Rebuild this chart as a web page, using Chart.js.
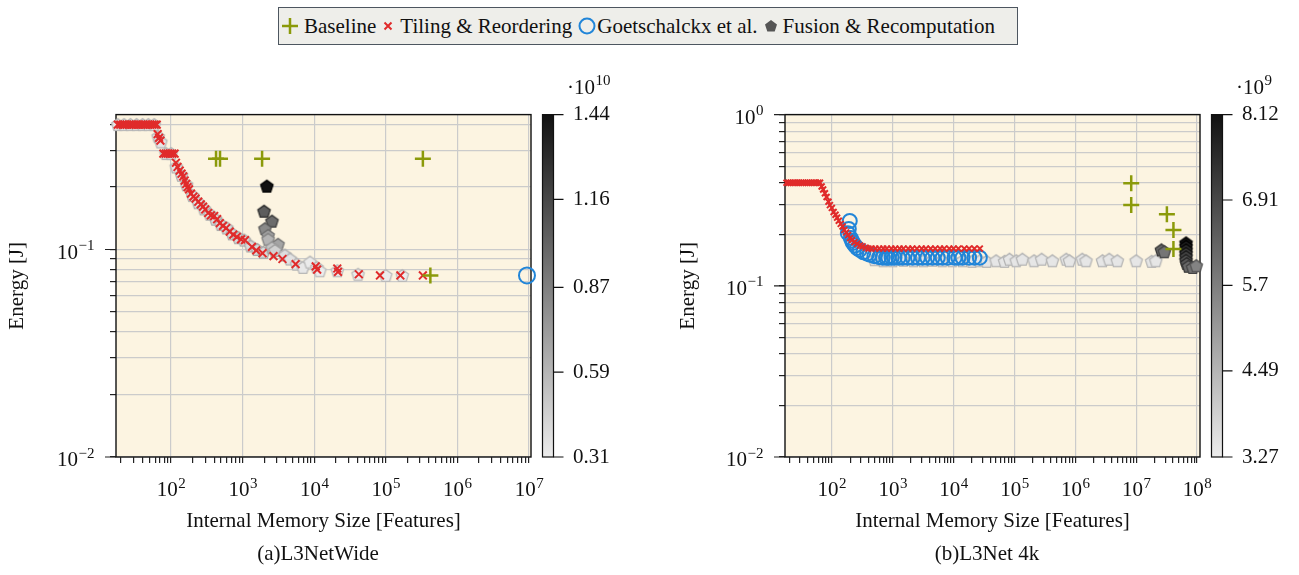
<!DOCTYPE html>
<html>
<head>
<meta charset="utf-8">
<script src="https://cdn.jsdelivr.net/npm/chart.js@4.4.1/dist/chart.umd.min.js"></script>
<style>
  body { margin: 0; width: 1299px; height: 575px; background: #fff; position: relative; overflow: hidden;
         font-family: "Liberation Serif", serif; color: #111; }
  #legend { position: absolute; left: 278px; top: 7px; width: 740px; height: 38px; box-sizing: border-box;
            border: 1.5px solid #4d5660; background: #eeeeea; display: flex; align-items: center;
            padding-left: 2px; font-size: 21px; white-space: nowrap; }
  #legend svg { flex: none; }
  .wrap { position: absolute; top: 60px; height: 515px; }
  .caption { position: absolute; top: 541px; font-size: 21px; text-align: center; width: 300px; }
</style>
</head>
<body>
<div id="legend">
  <svg width="18" height="18" style="margin-right:5px"><path d="M9 1V17M1 9H17" stroke="#8b9a0a" stroke-width="2.5"/></svg>
  <span style="margin-right:6px">Baseline</span>
  <svg width="12" height="12" style="margin-right:6px"><path d="M2.5 2.5L9.5 9.5M9.5 2.5L2.5 9.5" stroke="#e02b2b" stroke-width="2"/></svg>
  <span style="margin-right:5px">Tiling &amp; Reordering</span>
  <svg width="20" height="20"><circle cx="10" cy="10" r="7.5" fill="none" stroke="#2185d8" stroke-width="2"/></svg>
  <span style="margin-right:6px">Goetschalckx et al.</span>
  <svg width="14" height="14" style="margin-right:5px"><path d="M7 1L13 5.5L10.7 12.5H3.3L1 5.5Z" fill="#555"/></svg>
  <span>Fusion &amp; Recomputation</span>
</div>

<div class="wrap" style="left:0;width:650px"><canvas id="left"></canvas></div>
<div class="wrap" style="left:650px;width:649px"><canvas id="right"></canvas></div>
<div class="caption" style="left:168px">(a)L3NetWide</div>
<div class="caption" style="left:837px">(b)L3Net 4k</div>

<script>
// ---------- L3NetWide ----------
const leftBaselineX = [425, 483, 1870, 3.3e5, 4.2e5];
const leftBaselineY = [0.274, 0.274, 0.274, 0.274, 0.075];

const leftTilingX = [18, 19.5, 21, 22.5, 24, 26, 28, 30, 32.5, 35, 38, 41, 44, 47.5, 51, 55, 59, 63,
  65, 68, 71, 78, 84, 90, 97, 104, 112, 117, 123, 132, 140, 148, 155, 163, 170, 178, 190, 205, 220,
  240, 260, 280, 300, 330, 360, 400, 440, 480, 530, 590, 660, 740, 830, 950, 1080, 1350, 1550, 1900,
  2700, 3600, 5500, 1.05e4, 1.1e4, 2.1e4, 2.15e4, 4.2e4, 8.3e4, 1.6e5, 3.3e5];
const leftTilingY = [0.4, 0.4, 0.4, 0.4, 0.4, 0.4, 0.4, 0.4, 0.4, 0.4, 0.4, 0.4, 0.4, 0.4, 0.4, 0.4, 0.4, 0.4,
  0.36, 0.345, 0.335, 0.29, 0.29, 0.29, 0.29, 0.29, 0.29, 0.262, 0.25, 0.24, 0.232, 0.225, 0.215, 0.207, 0.2,
  0.195, 0.186, 0.18, 0.176, 0.17, 0.165, 0.161, 0.156, 0.15, 0.146, 0.145, 0.14, 0.134, 0.13, 0.127, 0.122,
  0.118, 0.115, 0.112, 0.111, 0.103, 0.099, 0.096, 0.093, 0.09, 0.085, 0.083, 0.08, 0.081, 0.078, 0.076,
  0.075, 0.075, 0.075];

const leftGoetX = [9.4e6];
const leftGoetY = [0.075];

const leftFusionX = [18, 22, 27, 33, 40, 48, 58, 66, 72, 85, 100, 118, 140, 165, 200, 240, 290, 350, 420,
  500, 600, 720, 880, 1050, 1300, 1600, 1950,
  2180, 1990, 2570, 2050, 2270, 2270, 3120, 2570, 2830, 3900, 4600, 5700, 6970, 8750, 1.09e4, 1.2e4,
  2.1e4, 4.1e4, 1e5, 1.7e5];
const leftFusionY = [0.4, 0.4, 0.4, 0.4, 0.4, 0.4, 0.4, 0.35, 0.33, 0.29, 0.29, 0.25, 0.228, 0.205, 0.182,
  0.168, 0.157, 0.148, 0.14, 0.132, 0.127, 0.119, 0.114, 0.111, 0.104, 0.1, 0.097,
  0.202, 0.153, 0.137, 0.126, 0.117, 0.112, 0.106, 0.102, 0.099, 0.094, 0.09, 0.085, 0.082, 0.087, 0.082,
  0.079, 0.079, 0.076, 0.075, 0.075];
const leftFusionC = [0.33, 0.33, 0.33, 0.33, 0.33, 0.33, 0.33, 0.34, 0.34, 0.35, 0.35, 0.35, 0.36, 0.36, 0.36,
  0.37, 0.37, 0.38, 0.38, 0.38, 0.39, 0.39, 0.4, 0.4, 0.4, 0.41, 0.41,
  1.44, 1.05, 0.97, 0.82, 0.7, 0.6, 0.68, 0.5, 0.45, 0.38, 0.36, 0.34, 0.33, 0.32, 0.32, 0.31,
  0.31, 0.31, 0.31, 0.31];
const leftCbTicks = [0.31, 0.59, 0.87, 1.16, 1.44];

// ---------- L3Net 4k ----------
const rightBaselineX = [8.3e6, 8.3e6, 3.2e7, 4.1e7, 4.1e7];
const rightBaselineY = [0.397, 0.296, 0.262, 0.212, 0.164];

const rightTilingX = [18, 19.5, 21, 23, 25, 27, 29, 31.5, 34, 37, 40, 43, 47, 51, 55, 60, 64,
  68, 72, 77, 82, 88, 93, 100, 107, 115, 122, 130, 140, 150, 160, 172, 185, 200, 215, 235, 260, 290, 320, 360,
  400, 450, 520, 600, 700, 800, 950, 1100, 1300, 1500, 1800, 2100, 2500, 3000, 3500, 4200, 5000, 6000, 7000,
  8500, 1e4, 1.2e4, 1.5e4, 1.8e4, 2.2e4, 2.7e4];
const rightTilingY = [0.4, 0.4, 0.4, 0.4, 0.4, 0.4, 0.4, 0.4, 0.4, 0.4, 0.4, 0.4, 0.4, 0.4, 0.4, 0.4, 0.4,
  0.38, 0.365, 0.347, 0.33, 0.31, 0.296, 0.285, 0.27, 0.26, 0.25, 0.24, 0.23, 0.222, 0.212, 0.205, 0.198,
  0.19, 0.185, 0.18, 0.176, 0.172, 0.17, 0.167,
  0.165, 0.165, 0.165, 0.165, 0.165, 0.165, 0.165, 0.165, 0.165, 0.165, 0.165, 0.165, 0.165, 0.165, 0.165,
  0.165, 0.165, 0.165, 0.165, 0.165, 0.165, 0.165, 0.165, 0.165, 0.165, 0.165];

const rightGoetX = [183, 197, 190, 205, 215, 222, 240, 260, 287, 330, 380, 420, 500, 600, 685, 780, 850, 960,
  1070, 1250, 1460, 1750, 2130, 2600, 3100, 3700, 4500, 5500, 6600, 8000, 1.04e4, 1.2e4, 1.4e4, 1.8e4,
  2.2e4, 2.7e4];
const rightGoetY = [0.203, 0.239, 0.215, 0.19, 0.183, 0.178, 0.172, 0.166, 0.162, 0.157, 0.154, 0.152, 0.149,
  0.147, 0.146, 0.146, 0.146, 0.146, 0.146, 0.146, 0.146, 0.146, 0.146, 0.146, 0.146, 0.146, 0.146, 0.146,
  0.146, 0.146, 0.146, 0.146, 0.146, 0.146, 0.146, 0.146];

const rightFusionX = [500, 700, 1000, 1500, 2200, 3200, 4500, 6500, 9500, 1.4e4, 2e4, 2.7e4, 3.5e4, 5e4,
  6.9e4, 8.3e4, 1.07e5, 1.35e5, 2.1e5, 2.8e5, 4.2e5, 7.1e5, 8e5, 1.3e6, 1.5e6, 2.8e6, 3.6e6, 4.9e6, 1e7,
  1.8e7, 2.1e7,
  2.6e7, 2.9e7, 6.6e7, 6.6e7, 6.6e7, 6.6e7, 6.6e7, 6.6e7, 6.8e7, 7.2e7, 8.5e7, 9.7e7];
const rightFusionY = [0.142, 0.14, 0.14, 0.141, 0.14, 0.14, 0.141, 0.14, 0.14, 0.14, 0.139, 0.14, 0.139,
  0.14, 0.139, 0.143, 0.14, 0.143, 0.14, 0.143, 0.14, 0.143, 0.14, 0.143, 0.14, 0.14, 0.143, 0.14, 0.14,
  0.139, 0.14,
  0.162, 0.158, 0.178, 0.17, 0.162, 0.155, 0.148, 0.141, 0.135, 0.13, 0.128, 0.131];
const rightFusionC = [3.4, 3.4, 3.4, 3.4, 3.4, 3.4, 3.4, 3.4, 3.4, 3.4, 3.4, 3.4, 3.4, 3.4, 3.4, 3.4, 3.4,
  3.4, 3.4, 3.4, 3.4, 3.4, 3.4, 3.4, 3.4, 3.4, 3.4, 3.4, 3.4, 3.4, 3.4,
  6.2, 5.9, 8.12, 7.8, 7.4, 7.1, 6.9, 6.7, 6.5, 6.2, 5.9, 5.6];
const rightCbTicks = [3.27, 4.49, 5.7, 6.91, 8.12];

// ---------- helpers ----------
const FONT = 'Liberation Serif';
const GREEN = '#8b9a0a', RED = '#e02b2b', BLUE = '#2185d8';
const CLEAR = 'rgba(0,0,0,0)';

function isDecade(v) {
  const e = Math.round(Math.log10(v));
  return Math.abs(v - Math.pow(10, e)) < 1e-9 * v;
}
// placeholder text so Chart.js reserves room; the visible label is drawn by the frame plugin
function powLabel(v) {
  return isDecade(v) ? '10' + Math.round(Math.log10(v)) : '';
}
function logTicks(scale) {
  const out = [];
  const lo = Math.floor(Math.log10(scale.min)), hi = Math.ceil(Math.log10(scale.max));
  for (let e = lo; e <= hi; e++) {
    for (let m = 1; m <= 9; m++) {
      const v = m * Math.pow(10, e);
      if (v >= scale.min * 0.9999 && v <= scale.max * 1.0001) out.push({ value: v, major: m === 1 });
    }
  }
  scale.ticks = out;
}
function grayFor(v, lo, hi) {
  const t = Math.min(1, Math.max(0, (v - lo) / (hi - lo)));
  return Math.round(236 - t * (236 - 17));
}
const pentCache = {};
function pentagon(g) {
  if (pentCache[g]) return pentCache[g];
  const r = 6.5, s = 17;
  const c = document.createElement('canvas');
  c.width = s; c.height = s;
  const x = c.getContext('2d');
  x.beginPath();
  for (let i = 0; i < 5; i++) {
    const a = -Math.PI / 2 + i * 2 * Math.PI / 5;
    const px = s / 2 + r * Math.cos(a), py = s / 2 + 0.6 + r * Math.sin(a);
    if (i) x.lineTo(px, py); else x.moveTo(px, py);
  }
  x.closePath();
  x.fillStyle = `rgb(${g},${g},${g})`;
  x.fill();
  const b = Math.max(0, g - 50);
  x.strokeStyle = `rgb(${b},${b},${b})`;
  x.lineWidth = 1.3;
  x.stroke();
  pentCache[g] = c;
  return c;
}
function pts(xs, ys, cs) {
  return xs.map((x, i) => cs ? { x: x, y: ys[i], c: cs[i] } : { x: x, y: ys[i] });
}

// draws 10^e with a raised exponent; align 'center' or 'right'
function drawPow(ctx, v, x, baseY, align) {
  const e = String(Math.round(Math.log10(v))).replace('-', '\u2212');
  ctx.font = `21px "${FONT}"`;
  const bw = ctx.measureText('10').width;
  ctx.font = `15px "${FONT}"`;
  const ew = ctx.measureText(e).width;
  const left = align === 'center' ? x - (bw + ew) / 2 : x - bw - ew;
  ctx.font = `21px "${FONT}"`;
  ctx.fillText('10', left, baseY);
  ctx.font = `15px "${FONT}"`;
  ctx.fillText(e, left + bw + 0.5, baseY - 8.5);
}

const framePlugin = {
  id: 'frame',
  beforeDraw(chart) {
    const a = chart.chartArea, ctx = chart.ctx;
    ctx.save();
    ctx.fillStyle = '#fcf4e1';
    ctx.fillRect(a.left, a.top, a.right - a.left, a.bottom - a.top);
    ctx.restore();
  },
  beforeDatasetsDraw(chart) {
    const a = chart.chartArea, ctx = chart.ctx;
    ctx.save();
    ctx.strokeStyle = '#111';
    ctx.lineWidth = 1.4;
    ctx.strokeRect(a.left, a.top, a.right - a.left, a.bottom - a.top);
    ctx.restore();
  },
  afterDraw(chart) {
    const opts = chart.options.plugins.frame;
    const cb = chart.scales.cb, xs = chart.scales.x, ys = chart.scales.y;
    const a = chart.chartArea, ctx = chart.ctx;
    ctx.save();
    ctx.fillStyle = '#111';
    ctx.strokeStyle = '#222';
    ctx.textBaseline = 'alphabetic';
    ctx.textAlign = 'left';

    // axis labels and longer major ticks on y
    xs.ticks.forEach(t => {
      if (isDecade(t.value)) drawPow(ctx, t.value, xs.getPixelForValue(t.value), a.bottom + 39, 'center');
    });
    ctx.lineWidth = 1.2;
    ctx.beginPath();
    ys.ticks.forEach(t => {
      if (!isDecade(t.value)) return;
      const y = ys.getPixelForValue(t.value);
      drawPow(ctx, t.value, a.left - 22, y + 9, 'right');
      ctx.moveTo(a.left - 11, y);
      ctx.lineTo(a.left, y);
    });
    ctx.stroke();

    // colour bar
    const x0 = a.right + 11.5, w = 11;
    const grad = ctx.createLinearGradient(0, a.top, 0, a.bottom);
    grad.addColorStop(0, 'rgb(17,17,17)');
    grad.addColorStop(1, 'rgb(236,236,236)');
    ctx.fillStyle = grad;
    ctx.fillRect(x0, a.top, w, a.bottom - a.top);
    ctx.strokeStyle = '#111';
    ctx.lineWidth = 1.2;
    ctx.strokeRect(x0, a.top, w, a.bottom - a.top);
    ctx.beginPath();
    cb.ticks.forEach(t => {
      const y = cb.getPixelForValue(t.value);
      ctx.moveTo(x0 + w, y);
      ctx.lineTo(x0 + w + 10, y);
    });
    ctx.stroke();

    // multiplier above the colour bar
    ctx.fillStyle = '#111';
    ctx.font = `21px "${FONT}"`;
    const base = '·10';
    const bx = a.right + 36;
    ctx.fillText(base, bx, 34);
    const bw = ctx.measureText(base).width;
    ctx.font = `15px "${FONT}"`;
    ctx.fillText(opts.exp, bx + bw + 0.5, 25);
    ctx.restore();
  }
};

function makeChart(id, cfg) {
  const lo = cfg.cbTicks[0], hi = cfg.cbTicks[cfg.cbTicks.length - 1];
  new Chart(document.getElementById(id), {
    type: 'scatter',
    data: {
      datasets: [
        { label: 'Baseline', data: pts(cfg.baseX, cfg.baseY), pointStyle: 'cross', pointRadius: 8,
          borderColor: GREEN, borderWidth: 2.5, clip: false },
        { label: 'Tiling & Reordering', data: pts(cfg.tileX, cfg.tileY), pointStyle: 'crossRot',
          pointRadius: cfg.xRadius, borderColor: RED, borderWidth: 2, clip: false },
        { label: 'Goetschalckx et al.', data: pts(cfg.goetX, cfg.goetY), pointStyle: 'circle',
          pointRadius: cfg.circleRadius, borderColor: BLUE, backgroundColor: CLEAR, borderWidth: 2,
          clip: false },
        { label: 'Fusion & Recomputation', data: pts(cfg.fusX, cfg.fusY, cfg.fusC),
          pointStyle: ctx => pentagon(ctx.raw ? grayFor(ctx.raw.c, lo, hi) : 85), clip: false }
      ]
    },
    options: {
      responsive: true,
      maintainAspectRatio: false,
      animation: false,
      events: [],
      layout: { padding: { top: 51, left: cfg.padLeft, right: 0, bottom: 38 } },
      plugins: {
        legend: { display: false },
        tooltip: { enabled: false },
        frame: { exp: cfg.exp }
      },
      scales: {
        x: {
          type: 'logarithmic', min: cfg.xMin, max: cfg.xMax,
          afterBuildTicks: logTicks,
          afterFit: s => { s.height = 80; },
          border: { display: false },
          grid: { color: c => (c.tick && isDecade(c.tick.value)) ? '#cbcbcb' : CLEAR,
                  tickColor: '#222', tickLength: 6, lineWidth: 1.2 },
          ticks: { autoSkip: false, maxRotation: 0, padding: 14, color: CLEAR,
                   font: { family: FONT, size: 21 }, callback: v => powLabel(v) },
          title: { display: true, text: 'Internal Memory Size [Features]', color: '#111',
                   font: { family: FONT, size: 21 }, padding: { top: 0, bottom: 3 } }
        },
        y: {
          type: 'logarithmic', min: 0.01, max: cfg.yMax,
          afterBuildTicks: logTicks,
          afterFit: s => { s.width = cfg.yWidth; },
          border: { display: false },
          grid: { color: '#cbcbcb', tickColor: '#222', tickLength: 6, lineWidth: 1.2 },
          ticks: { autoSkip: false, padding: 15, color: CLEAR,
                   font: { family: FONT, size: 21 }, callback: v => powLabel(v) },
          title: { display: true, text: 'Energy [J]', color: '#111',
                   font: { family: FONT, size: 21 }, padding: 0 }
        },
        cb: {
          type: 'linear', position: 'right', min: lo, max: hi,
          afterBuildTicks: s => { s.ticks = cfg.cbTicks.map(v => ({ value: v })); },
          afterFit: s => { s.width = cfg.cbWidth; },
          border: { display: false },
          grid: { display: false, drawOnChartArea: false, drawTicks: false },
          ticks: { autoSkip: false, padding: 42, color: '#111',
                   font: { family: FONT, size: 21 }, callback: v => String(v) }
        }
      }
    },
    plugins: [framePlugin]
  });
}

window.onload = function () {
  makeChart('left', {
    baseX: leftBaselineX, baseY: leftBaselineY,
    tileX: leftTilingX, tileY: leftTilingY,
    goetX: leftGoetX, goetY: leftGoetY,
    fusX: leftFusionX, fusY: leftFusionY, fusC: leftFusionC,
    cbTicks: leftCbTicks, exp: '10',
    xMin: 17, xMax: 1.07e7, yMax: 0.447,
    padLeft: 5, yWidth: 111, cbWidth: 119,
    xRadius: 5.5, circleRadius: 8
  });
  makeChart('right', {
    baseX: rightBaselineX, baseY: rightBaselineY,
    tileX: rightTilingX, tileY: rightTilingY,
    goetX: rightGoetX, goetY: rightGoetY,
    fusX: rightFusionX, fusY: rightFusionY, fusC: rightFusionC,
    cbTicks: rightCbTicks, exp: '9',
    xMin: 17, xMax: 1.12e8, yMax: 1,
    padLeft: 26, yWidth: 109, cbWidth: 99,
    xRadius: 4.2, circleRadius: 7
  });
};
</script>
</body>
</html>
